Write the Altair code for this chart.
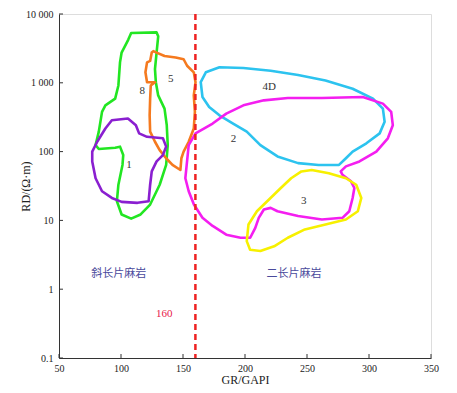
import altair as alt
import pandas as pd

# ---- data (GR in GAPI, RD in ohm.m) ----
shape_names = ["8", "5", "1", "4D", "2", "3"]
shape_colors = ["#22e622", "#f57a1f", "#8a1fd0", "#2cc3ef", "#f41ef0", "#f7f000"]

green_gr = [108.2, 128.7, 130.0, 128.7, 127.4, 128.1, 130.0, 135.1, 136.9, 137.7, 136.4, 131.2,
            123.5, 115.8, 108.2, 100.5, 96.7, 97.9, 101.2, 101.8, 99.2, 95.3, 82.1, 79.5,
            82.1, 84.7, 87.4, 95.3, 97.9, 99.2, 100.5, 105.9]
green_rd = [5300, 5400, 4740, 2750, 1580, 1020, 656, 422, 242, 124, 64, 33,
            17, 12.2, 10.6, 12.2, 19, 33, 64, 89, 118, 114, 109, 124,
            195, 378, 470, 588, 915, 1980, 2750, 4250]

orange_gr = [126.1, 128.7, 135.1, 144.1, 150.5, 153.3, 158.7, 160.1, 158.7, 159.6, 158.7, 154.6,
             150.5, 148.7, 147.9, 141.5, 136.4, 131.2, 127.4, 123.5, 123.1, 123.5, 124.0, 127.4,
             121.0, 119.7, 121.0, 123.5, 124.8]
orange_rd = [2890, 2750, 2450, 2330, 2200, 1770, 1420, 1020, 656, 378, 217, 139,
             100, 80, 54, 64, 80, 105, 139, 195, 337, 588, 915, 1020,
             1020, 1420, 1980, 2080, 2750]

purple_gr = [92.6, 105.6, 112.0, 114.6, 121.0, 133.8, 136.4, 133.8, 128.7, 124.8, 123.5, 122.3,
             113.3, 100.5, 92.6, 84.7, 79.5, 76.8, 76.8, 80.8, 87.4]
purple_rd = [286, 303, 242, 184, 164, 156, 118, 89, 72, 51.5, 33, 19,
             18, 18.6, 21.2, 26.5, 41, 72, 100, 139, 217]

cyan_gr = [164.3, 168.4, 179.4, 198.7, 220.7, 242.8, 264.9, 286.8, 303.2, 311.2, 312.6, 308.6,
           297.9, 286.8, 281.4, 275.8, 259.3, 242.8, 226.2, 212.4, 201.4, 190.4, 179.4, 171.1, 165.7]
cyan_rd = [1020, 1420, 1680, 1640, 1500, 1300, 1080, 820, 588, 422, 271, 184,
           132, 100, 80, 64, 64, 68, 85, 124, 195, 256, 337, 446, 622]

magenta_gr = [151.9, 154.6, 160.1, 173.9, 184.9, 198.7, 215.2, 234.5, 262.0, 295.0, 311.2, 317.9,
              319.2, 315.2, 305.9, 292.3, 281.4, 277.2, 278.6, 285.5, 288.2, 286.8, 284.1, 278.6,
              262.0, 242.8, 226.2, 220.7, 215.2, 211.1, 208.3, 204.2, 196.4, 184.9, 173.9, 165.7,
              158.8, 154.6]
magenta_rd = [41, 124, 184, 256, 357, 470, 556, 601, 601, 622, 498, 378,
              242, 156, 100, 72, 61, 51.5, 46, 37, 29.6, 21.2, 13.6, 10.9,
              10.3, 11.6, 13.6, 15.2, 14.4, 10.9, 7.8, 5.6, 5.6, 6.2, 8.3, 10.9,
              17, 26.5]

yellow_gr = [253.8, 267.6, 281.4, 289.7, 293.8, 291.0, 281.4, 264.9, 248.3, 234.5, 223.5, 212.4,
             204.1, 201.4, 202.8, 209.6, 217.9, 228.9, 237.2, 245.5]
yellow_rd = [54, 48.6, 41, 33, 21.2, 13.6, 10.3, 8.7, 7.4, 5.6, 4.2, 3.6,
             3.75, 5.0, 8.7, 13.6, 19, 29.6, 41, 51.5]

num_labels = ["8", "5", "1", "4D", "2", "3"]
num_gr = [117.1, 140.2, 106.5, 219.6, 190.7, 247.3]
num_rd = [767, 1140, 63, 875, 150, 19.2]

zone_labels = ["斜长片麻岩", "二长片麻岩"]
zone_gr = [98.2, 239.6]
zone_rd = [1.64, 1.64]

cutoff_gr = [160]
cutoff_label = ["160"]
cutoff_label_gr = [134.8]
cutoff_label_rd = [0.435]

x_ticks = [50, 100, 150, 200, 250, 300, 350]
y_ticks = [0.1, 1, 10, 100, 1000, 10000]

# ---- build tables ----
series = [green_gr, orange_gr, purple_gr, cyan_gr, magenta_gr, yellow_gr]
values = [green_rd, orange_rd, purple_rd, cyan_rd, magenta_rd, yellow_rd]
rows = []
for name, gr, rd in zip(shape_names, series, values):
    for i, (a, b) in enumerate(zip(gr, rd)):
        rows.append({"shape": name, "GR": a, "RD": b, "ord": i})
shapes_df = pd.DataFrame(rows)

W, H = 372, 344
FONT = "Liberation Serif"

xscale = alt.Scale(domain=[50, 350], nice=False, zero=False)
yscale = alt.Scale(type="log", domain=[0.1, 10000], nice=False)

xaxis = alt.Axis(title="GR/GAPI", values=x_ticks, ticks=False, grid=False, labelFont=FONT,
                 labelFontSize=10, labelColor="#222", titleFont=FONT, titleFontSize=12,
                 titleFontWeight="normal", titleColor="#222", labelPadding=5, titlePadding=1,
                 domainColor="#333", labelFlush=False)
yaxis = alt.Axis(title="RD/(Ω·m)", values=y_ticks, ticks=False, grid=False, labelFont=FONT,
                 labelFontSize=10, labelColor="#222", titleFont=FONT, titleFontSize=12,
                 titleFontWeight="normal", titleColor="#222", labelPadding=6, titlePadding=-7,
                 domainColor="#333", labelFlush=False,
                 labelExpr="datum.value >= 10000 ? '10 000' : datum.value >= 1000 ? '1 000' : datum.value >= 1 ? format(datum.value, 'd') : '0.1'")

X = lambda: alt.X("GR:Q", scale=xscale, axis=xaxis)
Y = lambda: alt.Y("RD:Q", scale=yscale, axis=yaxis)

lines = alt.Chart(shapes_df).mark_line(strokeWidth=2.6, interpolate="linear-closed",
                                       strokeJoin="round").encode(
    x=X(), y=Y(),
    color=alt.Color("shape:N", scale=alt.Scale(domain=shape_names, range=shape_colors), legend=None),
    detail="shape:N",
    order="ord:Q",
)

cut = alt.Chart(pd.DataFrame({"GR": cutoff_gr})).mark_rule(
    color="#ee2222", strokeWidth=2.5, strokeDash=[6, 4]).encode(x=X())

nums = alt.Chart(pd.DataFrame({"GR": num_gr, "RD": num_rd, "t": num_labels})).mark_text(
    font=FONT, fontSize=11, color="#333").encode(x=X(), y=Y(), text="t:N")

zones = alt.Chart(pd.DataFrame({"GR": zone_gr, "RD": zone_rd, "t": zone_labels})).mark_text(
    font="Noto Sans CJK SC", fontSize=11, color="#4a4a9c").encode(x=X(), y=Y(), text="t:N")

cutlab = alt.Chart(pd.DataFrame({"GR": cutoff_label_gr, "RD": cutoff_label_rd, "t": cutoff_label})).mark_text(
    font=FONT, fontSize=11, color="#e8204a").encode(x=X(), y=Y(), text="t:N")

xt = alt.Chart(pd.DataFrame({"GR": x_ticks})).mark_rule(color="#333", strokeWidth=1).encode(
    x=X(), y=alt.value(H), y2=alt.value(H - 4))
yt = alt.Chart(pd.DataFrame({"RD": y_ticks})).mark_rule(color="#333", strokeWidth=1).encode(
    y=Y(), x=alt.value(0), x2=alt.value(4))

chart = alt.layer(lines, cut, nums, zones, cutlab, xt, yt).properties(
    width=W, height=H,
    autosize=alt.AutoSizeParams(type="none"),
    padding={"left": 51, "top": 6, "right": 12, "bottom": 33},
).configure_view(stroke="#222", strokeWidth=1.2).configure(background="white")

chart.save("out.html", embed_options={"renderer": "svg", "actions": False})
